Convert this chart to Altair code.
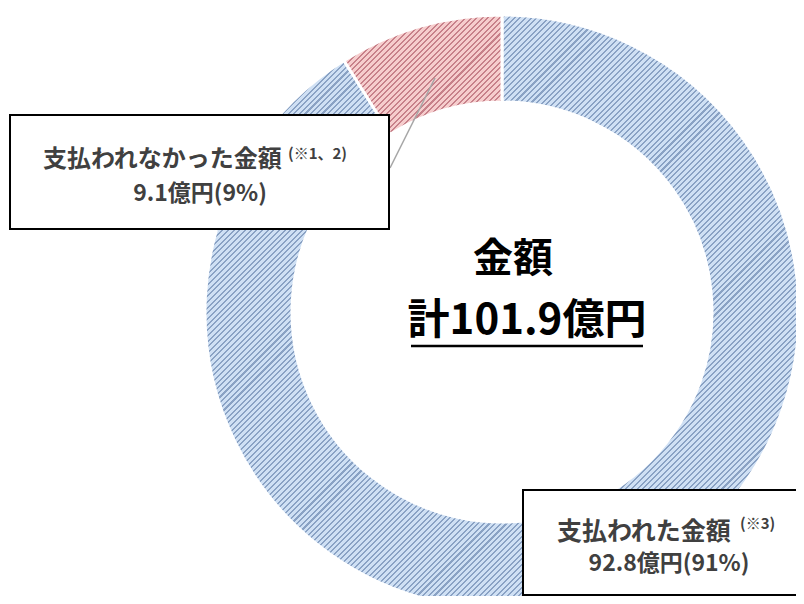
import math
import altair as alt
import pandas as pd

# ---- data ----
categories = ["支払われた金額", "支払われなかった金額"]
amounts = [92.8, 9.1]          # 億円
shares = [91, 9]               # %
notes = ["(※3)", "(※1、2)"]
total = 101.9
center_title = "金額"

FONT = "Noto Sans CJK JP"
LABEL_COLOR = "#404040"

df = pd.DataFrame({"cat": categories, "amount": amounts, "idx": [0, 1]})

# ---- geometry (styling) ----
CX, CY = 494, 304
R_OUT, R_IN = 297, 210
PERIOD = 4.0


def stripe_grad(n, light, dark, frac, x2, y2):
    stops = []
    for k in range(n):
        o0 = k / n
        o1 = (k + frac) / n
        o2 = (k + 1) / n
        stops += [
            alt.GradientStop(color=dark, offset=o0),
            alt.GradientStop(color=dark, offset=o1),
            alt.GradientStop(color=light, offset=o1),
            alt.GradientStop(color=light, offset=o2),
        ]
    return alt.Gradient(gradient="linear", stops=stops, x1=0, y1=0, x2=x2, y2=y2)


# blue arc bbox is the full square
n_blue = int(round(math.sqrt(2) * 2 * R_OUT / PERIOD))
blue_grad = stripe_grad(n_blue, "#cfe0f4", "#8aa2c4", 0.36, 1, 1)

# red arc bbox
ang = 2 * math.pi * amounts[1] / total
w = R_OUT * math.sin(ang)
h = R_OUT - R_IN * math.cos(ang)
a = 1.2
n_red = int(round(a * (w * w + h * h) / (math.sqrt(2) * PERIOD * w)))
red_grad = stripe_grad(n_red, "#f6cdcd", "#c7818a", 0.36, a, a * h / w)

base = (
    alt.Chart(df)
    .transform_window(end="sum(amount)", frame=[None, 0], sort=[alt.SortField("idx")])
    .transform_calculate(start="datum.end - datum.amount")
)

theta_scale = alt.Scale(domain=[0, total])


def ring(idx, grad):
    return (
        base.transform_filter(f"datum.idx == {idx}")
        .mark_arc(innerRadius=R_IN, outerRadius=R_OUT, fill=grad, stroke="white", strokeWidth=3)
        .encode(
            theta=alt.Theta("start:Q", scale=theta_scale),
            theta2="end:Q",
            x=alt.value(CX),
            y=alt.value(CY),
        )
    )


one = pd.DataFrame({"a": [0]})


def txt(s, x, y, size, color=LABEL_COLOR, align="center"):
    return alt.Chart(one).mark_text(
        text=s, fontSize=size, font=FONT, fontWeight="bold", color=color,
        align=align, baseline="middle"
    ).encode(x=alt.value(x), y=alt.value(y))


def box(x, x2, y, y2):
    return alt.Chart(one).mark_rect(fill="white", stroke="black", strokeWidth=2).encode(
        x=alt.value(x), x2=alt.value(x2), y=alt.value(y), y2=alt.value(y2)
    )


leader = alt.Chart(one).mark_rule(color="#a6a6a6", strokeWidth=1.5).encode(
    x=alt.value(427), y=alt.value(70), x2=alt.value(382), y2=alt.value(160)
)
underline = alt.Chart(one).mark_rule(color="black", strokeWidth=2.5).encode(
    x=alt.value(403), x2=alt.value(635), y=alt.value(338)
)

chart = alt.layer(
    ring(0, blue_grad),
    ring(1, red_grad),
    leader,
    box(2, 381, 107, 221),
    txt(categories[1], 35, 152, 24, align="left"),
    txt(notes[1], 280, 146, 15, align="left"),
    txt(f"{amounts[1]}億円({shares[1]}%)", 192, 186, 23),
    box(515, 800, 482, 587),
    txt(categories[0], 549, 524, 25, align="left"),
    txt(notes[0], 732, 516, 15, align="left"),
    txt(f"{amounts[0]}億円({shares[0]}%)", 661, 556, 23),
    txt(center_title, 505, 252, 40, color="black"),
    txt(f"計{total}億円", 519, 313, 42, color="black"),
    underline,
).properties(
    width=788, height=588, padding=0, autosize=alt.AutoSizeParams(type="none"),
    background="white",
).configure_view(strokeWidth=0)

chart.save("out.html", embed_options={"renderer": "svg", "actions": False})
